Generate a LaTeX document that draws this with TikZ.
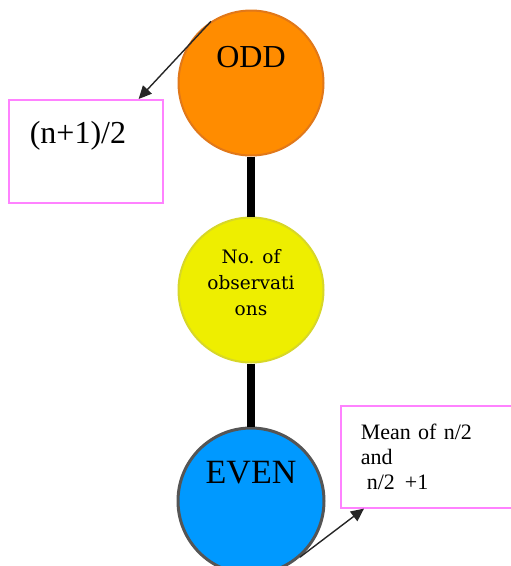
\documentclass[tikz,border=0pt]{standalone}
\usepackage{fontspec}
\setmainfont{Liberation Serif}
\newfontfamily\obsfont{DejaVu Serif}
\usetikzlibrary{calc, arrows.meta}
\definecolor{oddorange}{RGB}{255,140,0}
\definecolor{oddedge}{RGB}{225,120,25}
\definecolor{obsyellow}{RGB}{238,238,0}
\definecolor{obsedge}{RGB}{215,215,40}
\definecolor{evenblue}{RGB}{0,153,255}
\definecolor{evenedge}{RGB}{85,85,85}
\definecolor{boxpink}{RGB}{255,130,255}

\begin{document}
\begin{tikzpicture}[x=1pt, y=-1pt,
  circ/.style={circle, minimum size=145pt, inner sep=0pt},
  notebox/.style={draw=boxpink, line width=1.6pt, fill=white, align=left},
  link/.style={line width=7.5pt, black},
  pointer/.style={-{Triangle[length=13pt,width=12pt]}, line width=1.4pt, black!85}]
  \useasboundingbox (0,0) rectangle (511,566);
  % circles
  \node[circ, draw=oddedge, line width=2pt, fill=oddorange,
        font=\fontsize{32}{36}\selectfont, text height=22pt, text depth=54pt]
    (odd) at (251,83) {ODD};
  \node[circ, draw=obsedge, line width=2pt, fill=obsyellow, align=center,
        font=\obsfont\fontsize{18.5}{26}\selectfont]
    (obs) at (251,290) {No. of\\observati\\ons\\[-10pt]};
  \node[circ, minimum size=146pt, draw=evenedge, line width=3pt, fill=evenblue,
        font=\fontsize{34}{38}\selectfont, text height=24pt, text depth=60pt]
    (even) at (251,501) {EVEN};
  % boxes
  \node[notebox, anchor=north west, text width=112pt, inner xsep=21pt,
        inner ysep=4pt, text height=40pt, text depth=55pt,
        font=\fontsize{32}{36}\selectfont]
    (oddbox) at (8,99) {(n+1)/2};
  \node[notebox, anchor=north west, minimum height=102pt, text width=160pt,
        inner xsep=20pt, font=\fontsize{22}{25}\selectfont]
    (evenbox) at (340,405) {Mean of n/2\\and\\\hspace{6pt}n/2\hspace{10pt}+1};
  % connectors
  \draw[link] (odd) -- (obs);
  \draw[link] (obs) -- (even);
  \draw[pointer] (odd.123) -- ([xshift=-25pt]oddbox.north east);
  \draw[pointer] (even.311) -- ([xshift=24pt]evenbox.south west);
\end{tikzpicture}
\end{document}
